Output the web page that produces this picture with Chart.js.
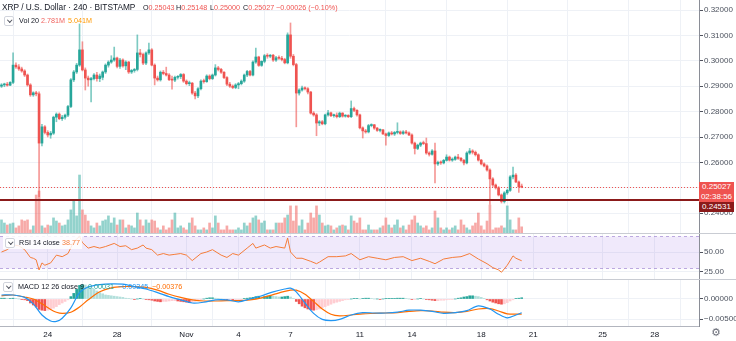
<!DOCTYPE html>
<html>
<head>
<meta charset="utf-8">
<script src="https://cdn.jsdelivr.net/npm/chart.js@4.4.0/dist/chart.umd.min.js"></script>
<style>
  body { margin:0; background:#fff; width:736px; height:341px; overflow:hidden; position:relative;
         font-family:"Liberation Sans", Arial, sans-serif; color:#131722; }
  canvas { position:absolute; left:0; }
  .t { position:absolute; white-space:nowrap; font-size:7.2px; line-height:10px; }
  .r { color:#ef5350; }
  .sep { position:absolute; left:0; width:736px; height:1px; background:#c9ccd3; }
  .box { position:absolute; width:8px; height:8px; border:1px solid #d1d4dc; border-radius:2px; background:#fff; }
  .box:after { content:""; position:absolute; left:2.5px; top:1.2px; width:2.5px; height:2.5px;
               border-right:1px solid #50535e; border-bottom:1px solid #50535e; transform:rotate(45deg); }
  .plabel { position:absolute; left:699px; width:35px; color:#fff; font-size:8px; line-height:10px; text-align:center; }
</style>
</head>
<body>
<canvas id="main" width="736" height="233" style="top:0"></canvas>
<div class="sep" style="top:233px"></div>
<canvas id="rsi" width="736" height="45" style="top:234px"></canvas>
<div class="sep" style="top:279px"></div>
<canvas id="macd" width="736" height="61" style="top:280px"></canvas>

<!-- legends -->
<div class="t" style="left:2px;top:2px;font-size:8.3px;">XRP / U.S. Dollar · 240 · BITSTAMP</div>
<div class="t" style="left:143px;top:2.5px">O<span class="r">0.25043</span></div>
<div class="t" style="left:176px;top:2.5px">H<span class="r">0.25148</span></div>
<div class="t" style="left:210px;top:2.5px">L<span class="r">0.25000</span></div>
<div class="t" style="left:243px;top:2.5px">C<span class="r">0.25027</span></div>
<div class="t r" style="left:276px;top:2.5px">−0.00026 (−0.10%)</div>

<div class="box" style="left:4px;top:16px"></div>
<div class="t" style="left:19px;top:16px">Vol 20</div>
<div class="t" style="left:41px;top:16px;color:#f0625d">2.781M</div>
<div class="t" style="left:68px;top:16px;color:#ff9800">5.041M</div>

<div style="position:absolute;left:3px;top:236px;width:79px;height:13px;background:rgba(255,255,255,0.85)"></div>
<div class="box" style="left:5px;top:238px"></div>
<div class="t" style="left:19px;top:237.5px">RSI 14 close</div>
<div class="t" style="left:62px;top:237.5px;color:#f57c39">38.77</div>

<div class="box" style="left:3px;top:282px"></div>
<div class="t" style="left:18px;top:281.5px">MACD 12 26 close 9</div>
<div class="t" style="left:88px;top:281.5px;color:#26a69a">0.00031</div>
<div class="t" style="left:118px;top:281.5px;color:#2196f3">−0.00345</div>
<div class="t" style="left:152px;top:281.5px;color:#ff6d00">−0.00376</div>

<!-- price labels on the right scale -->
<div class="plabel" style="top:182px;height:20px;background:#ef5350">0.25027<br>02:38:56</div>
<div class="plabel" style="top:202px;height:10px;background:#8b1a1a">0.24531</div>
<div style="position:absolute;left:699px;top:234px;width:37px;height:4px;overflow:hidden">
  <div style="position:absolute;left:5px;top:-7px;font-size:8px;line-height:10px;color:#4c525e">75.00</div>
</div>
<div style="position:absolute;left:711px;top:326px;font-size:11px;line-height:14px;color:#6a6d78;font-family:'DejaVu Sans'">⚙</div>

<script>
// ---- data (bar index 0 = Oct 21 08:00, 4h bars) ----
const dayIdx    = [16, 40, 64, 82, 100, 124, 142, 166, 184, 208, 226];
const dayLabels = ['24', '28', 'Nov', '4', '7', '11', '14', '18', '21', '25', '28'];
const priceTicks = [0.24, 0.25, 0.26, 0.27, 0.28, 0.29, 0.30, 0.31, 0.32];
const rsiTicks  = [25, 50];
const macdTicks = [-0.005, 0];

const open = [
.2900,.2905,.2908,.2904,.2915,.2983,.2976,.2968,.2960,.2944,
.2905,.2866,.2874,.2870,.2676,.2740,.2718,.2708,.2715,.2778,
.2790,.2772,.2778,.2786,.2820,.2925,.2956,.2983,.3043,.2964,
.2932,.2925,.2930,.2944,.2930,.2935,.2956,.2983,.2995,.3003,
.3011,.2978,.3003,.2980,.2995,.2956,.2962,.2966,.3031,.3025,
.2991,.3031,.3043,.2983,.2932,.2925,.2955,.2950,.2944,.2926,
.2924,.2935,.2938,.2946,.2920,.2910,.2912,.2873,.2862,.2890,
.2920,.2918,.2940,.2930,.2944,.2972,.2966,.2955,.2934,.2908,
.2900,.2895,.2905,.2910,.2920,.2944,.2958,.2944,.2995,.3015,
.2982,.2998,.3020,.3018,.3022,.3003,.3012,.3010,.3005,.2992,
.3102,.3018,.2985,.2873,.2885,.2893,.2890,.2877,.2794,.2787,
.2755,.2760,.2752,.2787,.2795,.2784,.2786,.2780,.2794,.2782,
.2785,.2780,.2812,.2805,.2787,.2736,.2724,.2720,.2745,.2748,
.2735,.2726,.2728,.2712,.2706,.2716,.2712,.2718,.2720,.2714,
.2720,.2716,.2708,.2676,.2655,.2668,.2676,.2674,.2637,.2632,
.2645,.2594,.2600,.2598,.2608,.2621,.2609,.2612,.2621,.2616,
.2608,.2598,.2637,.2645,.2640,.2630,.2609,.2594,.2586,.2570,
.2535,.2511,.2500,.2472,.2446,.2480,.2490,.2543,.2550,.2523,
.25043];
const high = [
.2910,.2912,.2915,.2918,.3031,.2992,.2985,.2975,.2965,.2948,
.2910,.2878,.2880,.2878,.2750,.2745,.2725,.2722,.2782,.2795,
.2795,.2785,.2790,.2825,.2930,.2962,.2990,.3145,.3075,.2972,
.2940,.2935,.2950,.2955,.2948,.2960,.2988,.3000,.3020,.3054,
.3015,.3010,.3008,.3000,.2998,.2966,.2970,.3102,.3045,.3030,
.3035,.3070,.3048,.2988,.2940,.2960,.2962,.2975,.2950,.2940,
.2940,.2942,.2950,.2950,.2925,.2920,.2915,.2880,.2895,.2925,
.2928,.2945,.2945,.2948,.2985,.2978,.2970,.2958,.2938,.2915,
.2905,.2910,.2915,.2925,.2948,.2962,.2962,.3000,.3050,.3018,
.3000,.3025,.3028,.3025,.3025,.3018,.3020,.3018,.3010,.3110,
.3149,.3025,.2990,.2890,.2900,.2898,.2895,.2880,.2800,.2792,
.2765,.2765,.2790,.2805,.2798,.2790,.2795,.2798,.2796,.2788,
.2788,.2842,.2818,.2808,.2790,.2740,.2730,.2750,.2752,.2750,
.2738,.2732,.2730,.2715,.2720,.2722,.2722,.2756,.2724,.2725,
.2726,.2720,.2712,.2680,.2672,.2680,.2684,.2696,.2642,.2650,
.2676,.2605,.2606,.2612,.2630,.2625,.2618,.2625,.2632,.2620,
.2612,.2642,.2655,.2650,.2645,.2634,.2612,.2598,.2590,.2575,
.2540,.2515,.2505,.2476,.2485,.2495,.2548,.2582,.2556,.2527,
.25148];
const low = [
.2895,.2898,.2900,.2902,.2910,.2970,.2962,.2955,.2938,.2900,
.2860,.2860,.2862,.2465,.2665,.2712,.2700,.2695,.2710,.2760,
.2768,.2765,.2770,.2780,.2815,.2918,.2950,.2978,.2960,.2885,
.2900,.2838,.2925,.2920,.2918,.2925,.2950,.2975,.2990,.2998,
.2972,.2970,.2975,.2965,.2950,.2950,.2955,.2960,.3015,.2985,
.2985,.3025,.2980,.2905,.2920,.2920,.2945,.2940,.2922,.2888,
.2918,.2928,.2930,.2915,.2905,.2902,.2868,.2850,.2855,.2885,
.2912,.2915,.2925,.2926,.2940,.2960,.2950,.2930,.2902,.2895,
.2890,.2890,.2890,.2905,.2915,.2938,.2940,.2940,.2990,.2978,
.2978,.2992,.3010,.3012,.2998,.2998,.3005,.3000,.2988,.2988,
.3010,.2980,.2740,.2865,.2880,.2885,.2870,.2790,.2782,.2705,
.2745,.2748,.2748,.2782,.2780,.2778,.2775,.2776,.2778,.2778,
.2776,.2776,.2800,.2782,.2732,.2696,.2715,.2716,.2740,.2730,
.2722,.2720,.2710,.2668,.2702,.2708,.2706,.2712,.2710,.2710,
.2712,.2705,.2672,.2633,.2650,.2662,.2670,.2632,.2625,.2628,
.2519,.2588,.2592,.2594,.2605,.2605,.2604,.2608,.2612,.2604,
.2590,.2594,.2632,.2633,.2625,.2605,.2590,.2582,.2565,.2435,
.2505,.2495,.2468,.2440,.2440,.2474,.2486,.2535,.2520,.2482,
.25000];
const close = [
.2905,.2908,.2904,.2915,.2983,.2976,.2968,.2960,.2944,.2905,
.2866,.2874,.2870,.2676,.2740,.2718,.2708,.2715,.2778,.2790,
.2772,.2778,.2786,.2820,.2925,.2956,.2983,.3043,.2964,.2932,
.2925,.2930,.2944,.2930,.2940,.2956,.2983,.2995,.3003,.3011,
.2978,.3003,.2980,.2995,.2956,.2962,.2966,.3031,.3025,.2991,
.3031,.3043,.2983,.2932,.2925,.2955,.2950,.2944,.2926,.2924,
.2935,.2938,.2946,.2920,.2910,.2912,.2873,.2862,.2890,.2920,
.2918,.2940,.2930,.2944,.2972,.2966,.2955,.2934,.2908,.2900,
.2895,.2905,.2910,.2920,.2944,.2958,.2944,.2995,.3015,.2982,
.2998,.3020,.3018,.3022,.3003,.3012,.3010,.3005,.2992,.3102,
.3018,.2985,.2873,.2885,.2893,.2890,.2877,.2794,.2787,.2755,
.2760,.2752,.2787,.2795,.2784,.2786,.2780,.2794,.2782,.2785,
.2780,.2812,.2805,.2787,.2736,.2724,.2720,.2745,.2748,.2735,
.2726,.2728,.2712,.2706,.2716,.2712,.2718,.2720,.2714,.2720,
.2716,.2708,.2676,.2655,.2668,.2676,.2674,.2637,.2632,.2645,
.2594,.2600,.2598,.2608,.2621,.2609,.2612,.2621,.2616,.2608,
.2598,.2637,.2645,.2640,.2630,.2609,.2594,.2586,.2570,.2535,
.2511,.2500,.2472,.2446,.2480,.2490,.2543,.2550,.2523,.2504,
.25027];
// volume in millions
const volume = [
5.9,4.5,3.6,4.1,4.5,2.3,3.2,5.9,5.4,5.9,
1.4,3.2,17.1,18.9,3.2,2.3,3.6,3.2,6.8,5.4,
4.5,3.2,3.6,5.9,10.4,14.9,7.7,26.1,10.4,8.1,
5.4,3.2,2.3,4.5,3.2,5.4,5.9,7.7,4.5,6.8,
3.6,5.9,5.9,2.3,3.6,3.2,2.3,9.0,5.9,3.2,
5.9,4.5,5.9,5.4,2.3,1.4,3.2,1.4,2.3,5.9,
9.0,2.3,3.2,2.3,1.4,4.5,6.8,3.2,1.4,1.4,
2.3,1.4,4.5,2.3,7.7,4.5,1.4,1.4,3.2,1.4,
1.4,1.4,2.3,1.4,4.5,3.2,4.5,6.8,7.7,5.9,
4.5,5.4,1.4,1.4,1.4,4.5,4.5,4.5,6.8,8.1,
12.2,5.4,12.2,3.2,5.9,1.4,4.5,9.0,6.8,12.2,
8.1,4.5,3.2,3.6,3.2,1.4,2.3,3.2,3.6,3.2,
1.4,7.7,5.4,4.5,6.8,1.4,1.4,3.6,1.4,1.4,
1.4,2.3,3.2,6.8,3.6,2.3,3.6,5.9,2.3,3.2,
1.4,3.6,5.9,7.7,4.5,3.2,2.3,3.2,1.4,2.3,
9.9,6.8,2.3,1.4,2.3,1.4,2.3,3.2,1.4,5.9,
3.6,2.3,1.4,3.2,4.5,9.0,3.2,1.4,5.4,12.6,
1.4,2.3,2.3,3.2,2.3,12.2,5.9,1.4,1.4,6.8,
2.78];

const rsiX = [0,2,4,6,8,10,11,12,13,14,15,17,19,21,23,25,27,28,30,32,34,36,39,41,43,45,47,49,50,52,54,56,58,60,62,64,66,69,71,73,76,78,80,82,85,87,88,91,93,95,98,99,100,102,104,107,109,110,113,116,119,121,124,127,130,133,136,139,142,145,148,150,153,156,159,162,165,168,170,172,173,175,177,178,180];
const rsiVal = [50,53,59,58,53,43,42,40,27,36,33,36,46,44,48,63,70,62,55,57,55,57,61,57,58,53,55,59,55,53,46,48,46,47,48,46,39,48,50,53,46,43,48,46,55,61,55,59,55,57,55,68,50,42,42,38,35,37,44,44,45,48,40,44,42,40,43,44,39,42,38,35,41,43,44,48,41,35,30,27,24,33,45,42,38.77];

const macdX = [0,4,8,11,14,17,19,21,24,27,30,34,38,42,46,50,54,58,62,66,70,74,78,82,86,90,94,98,100,102,105,108,111,114,117,121,125,129,133,137,141,145,149,153,157,161,165,169,172,175,178,180];
const macdLine = [0.0010,0.0010,0.0004,-0.0012,-0.0040,-0.0055,-0.0056,-0.0048,-0.0022,0.0016,0.0030,0.0036,0.0038,0.0037,0.0031,0.0025,0.0016,0.0006,-0.0002,-0.0010,-0.0008,-0.0002,-0.0002,-0.0007,0.0000,0.0008,0.0018,0.0025,0.0027,0.0018,-0.0010,-0.0036,-0.0051,-0.0054,-0.0051,-0.0040,-0.0034,-0.0035,-0.0035,-0.0033,-0.0028,-0.0028,-0.0031,-0.0036,-0.0034,-0.0029,-0.0017,-0.0025,-0.0038,-0.0047,-0.0040,-0.00345];
const signalLine = [0.0008,0.0010,0.0005,0.0000,-0.0012,-0.0026,-0.0033,-0.0036,-0.0033,-0.0020,-0.0002,0.0018,0.0028,0.0031,0.0031,0.0029,0.0022,0.0012,0.0004,-0.0002,-0.0005,-0.0005,-0.0004,-0.0004,-0.0002,0.0003,0.0011,0.0019,0.0022,0.0022,0.0012,-0.0006,-0.0025,-0.0038,-0.0042,-0.0040,-0.0037,-0.0036,-0.0035,-0.0034,-0.0031,-0.0029,-0.0030,-0.0033,-0.0034,-0.0031,-0.0025,-0.0024,-0.0030,-0.0037,-0.0038,-0.00376];
const hist = [
.0002,.0002,.0001,.0001,.0002,.0001,
0,-.0001,-.0002,-.0004,
-.0010,-.0015,-.0020,-.0026,-.0028,-.0029,-.0028,-.0026,
-.0023,-.0019,-.0014,-.0010,-.0006,-.0002,
.0006,.0014,.0024,.0034,.0036,.0035,.0032,.0028,.0024,.0020,.0016,.0013,
.0010,.0009,.0008,.0007,.0006,.0005,.0004,.0002,
.0001,0,-.0001,0,.0001,0,-.0001,-.0002,-.0003,
-.0005,-.0006,-.0007,-.0006,-.0006,-.0005,-.0004,-.0004,
-.0005,-.0006,-.0007,-.0008,-.0009,-.0008,-.0006,-.0004,-.0002,
0,.0002,.0003,.0003,.0002,.0001,0,-.0001,-.0002,
-.0002,-.0003,-.0003,-.0002,-.0001,.0001,.0002,
.0003,.0004,.0006,.0007,.0006,.0006,.0007,.0008,.0007,.0006,
.0005,.0005,.0006,.0007,.0005,.0001,
-.0006,-.0012,-.0018,-.0022,-.0025,-.0027,-.0028,-.0027,-.0025,
-.0022,-.0019,-.0016,-.0013,-.0010,-.0008,-.0006,-.0004,-.0002,-.0001,
0,.0001,.0001,0,.0001,.0002,.0002,.0001,0,0,-.0001,0,.0001,.0001,.0001,
.0001,.0002,.0002,.0002,.0001,0,-.0001,-.0001,0,.0001,
0,-.0001,-.0002,-.0003,-.0004,-.0004,-.0003,-.0003,-.0002,-.0001,-.0001,0,
.0002,.0003,.0005,.0006,.0008,.0008,.0007,.0006,.0004,
.0001,-.0002,-.0005,-.0008,-.0010,-.0012,-.0013,-.0012,-.0009,-.0005,
-.0002,.0001,.0002,.00031];

const lastPrice = 0.25027;
const levelPrice = 0.24531;

// ---- styling ----
const UP = '#26a69a', DOWN = '#ef5350';
const FONT = { family: '"Liberation Sans", Arial, sans-serif', size: 8 };
const TXT = '#4c525e';
const GRID = '#eef1f6';
const xMin = -0.52, xMax = 241.35;

Chart.defaults.animation = false;
Chart.defaults.responsive = false;
Chart.defaults.events = [];
Chart.defaults.plugins.legend.display = false;
Chart.defaults.plugins.tooltip.enabled = false;

function xAxis(showLabels) {
  return {
    type: 'linear', min: xMin, max: xMax, offset: false,
    afterBuildTicks: s => { s.ticks = dayIdx.map(v => ({ value: v })); },
    grid: { color: GRID, drawTicks: false },
    border: { display: showLabels, color: '#b2b5be' },
    ticks: { display: showLabels, autoSkip: false, maxRotation: 0, padding: 4,
             font: FONT, color: '#131722', callback: (v, i) => dayLabels[i] },
    afterFit: s => { s.height = showLabels ? 15 : 0; s.paddingLeft = 0; s.paddingRight = 0; }
  };
}
function yAxis(min, max, ticks, fmt) {
  return {
    position: 'right', min, max,
    afterBuildTicks: s => { s.ticks = ticks.map(v => ({ value: v })); },
    grid: { color: GRID, tickColor: '#50535e', tickLength: 4 },
    border: { color: '#8a8d96' },
    ticks: { font: FONT, color: TXT, padding: 1, callback: fmt },
    afterFit: s => { s.width = 37; s.paddingTop = 0; s.paddingBottom = 0; }
  };
}
const minus = s => s.replace('-', '\u2212');

// ---- main price chart ----
const up = open.map((o, i) => close[i] >= o);
const linesPlugin = {
  id: 'lines',
  afterDatasetsDraw(c) {
    const { ctx, chartArea: a, scales: { y } } = c;
    ctx.save();
    let py = Math.round(y.getPixelForValue(lastPrice)) + 0.5;
    ctx.strokeStyle = DOWN; ctx.lineWidth = 1; ctx.setLineDash([1, 2]);
    ctx.beginPath(); ctx.moveTo(a.left, py); ctx.lineTo(a.right, py); ctx.stroke();
    py = Math.round(y.getPixelForValue(levelPrice));
    ctx.setLineDash([]); ctx.strokeStyle = '#8b1a1a'; ctx.lineWidth = 2;
    ctx.beginPath(); ctx.moveTo(a.left, py); ctx.lineTo(a.right, py); ctx.stroke();
    ctx.restore();
  }
};

new Chart(document.getElementById('main'), {
  type: 'bar',
  data: {
    datasets: [
      { data: volume.map((v, i) => ({ x: i, y: v })), yAxisID: 'yv', grouped: false, order: 3,
        barThickness: 2, backgroundColor: up.map(u => u ? 'rgba(38,166,154,0.5)' : 'rgba(239,83,80,0.5)') },
      { data: low.map((l, i) => ({ x: i, y: [l, high[i]] })), yAxisID: 'y', grouped: false, order: 2,
        barThickness: 1, backgroundColor: up.map(u => u ? 'rgba(38,166,154,0.6)' : 'rgba(239,83,80,0.6)') },
      { data: open.map((o, i) => ({ x: i, y: [o, close[i]] })), yAxisID: 'y', grouped: false, order: 1,
        barThickness: 2, minBarLength: 1, backgroundColor: up.map(u => u ? UP : DOWN) }
    ]
  },
  options: {
    layout: { padding: 0 },
    scales: {
      x: xAxis(false),
      y: yAxis(0.232205, 0.323937, priceTicks, v => v.toFixed(5)),
      yv: { display: false, min: 0, max: 104.9 }
    }
  },
  plugins: [linesPlugin]
});

// ---- RSI ----
const bandPlugin = {
  id: 'band',
  beforeDatasetsDraw(c) {
    const { ctx, chartArea: a, scales: { y } } = c;
    const y70 = Math.round(y.getPixelForValue(70)) + 0.5, y30 = Math.round(y.getPixelForValue(30)) + 0.5;
    ctx.save();
    ctx.fillStyle = 'rgba(156,110,230,0.15)';
    ctx.fillRect(a.left, y70, a.right - a.left, y30 - y70);
    ctx.strokeStyle = 'rgba(149,117,205,0.6)'; ctx.setLineDash([3, 3]); ctx.lineWidth = 1;
    ctx.beginPath(); ctx.moveTo(a.left, y70); ctx.lineTo(a.right, y70);
    ctx.moveTo(a.left, y30); ctx.lineTo(a.right, y30); ctx.stroke();
    ctx.restore();
  }
};
new Chart(document.getElementById('rsi'), {
  type: 'line',
  data: { datasets: [{ data: rsiX.map((x, i) => ({ x, y: rsiVal[i] })), borderColor: '#f57c39',
                       borderWidth: 1, pointRadius: 0, tension: 0 }] },
  options: {
    scales: { x: xAxis(false), y: yAxis(15.38, 73.08, rsiTicks, v => v.toFixed(2)) }
  },
  plugins: [bandPlugin]
});

// ---- MACD ----
const histColors = hist.map((h, i) => {
  const p = i > 0 ? hist[i - 1] : h;
  if (h >= 0) return h >= p ? '#26a69a' : '#b2dfdb';
  return h < p ? '#ef5350' : '#ffcdd2';
});
new Chart(document.getElementById('macd'), {
  type: 'bar',
  data: {
    datasets: [
      { type: 'bar', data: hist.map((h, i) => ({ x: i, y: h })), backgroundColor: histColors,
        barThickness: 2, grouped: false, order: 3 },
      { type: 'line', data: macdX.map((x, i) => ({ x, y: macdLine[i] })), borderColor: '#2196f3',
        borderWidth: 1.2, pointRadius: 0, tension: 0.3, order: 1 },
      { type: 'line', data: macdX.map((x, i) => ({ x, y: signalLine[i] })), borderColor: '#ff6d00',
        borderWidth: 1.2, pointRadius: 0, tension: 0.3, order: 2 }
    ]
  },
  options: {
    scales: { x: xAxis(true), y: yAxis(-0.00675, 0.00475, macdTicks, v => minus(v.toFixed(5))) }
  }
});
</script>
</body>
</html>
